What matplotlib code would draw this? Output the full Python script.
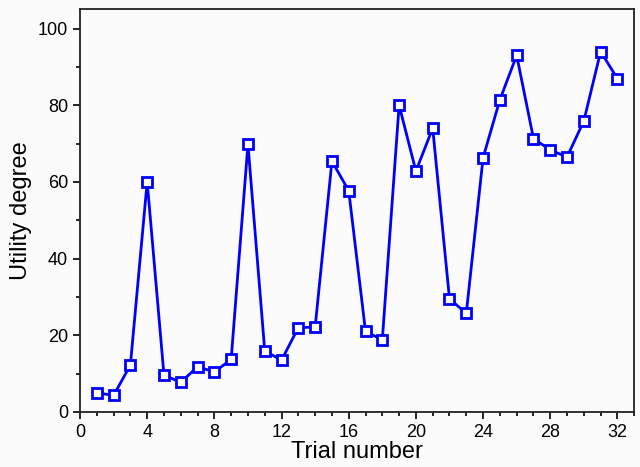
import matplotlib
matplotlib.use("Agg")
import matplotlib.pyplot as plt
from matplotlib.ticker import MultipleLocator

trial = list(range(1, 33))
utility = [5.0, 4.3, 12.2, 60.0, 9.6, 7.7, 11.8, 10.4, 13.7, 69.8,
           15.9, 13.5, 22.0, 22.1, 65.4, 57.7, 21.0, 18.8, 80.0, 62.8,
           74.0, 29.5, 25.7, 66.3, 81.4, 93.0, 71.3, 68.3, 66.5, 75.9,
           94.0, 86.9]

plt.rcParams['font.family'] = ['Liberation Sans', 'DejaVu Sans']

fig = plt.figure(figsize=(6.4, 4.67), dpi=100)
fig.patch.set_facecolor('#fbfbfb')
ax = fig.add_axes([0.125, 0.118, 0.866, 0.862])
ax.set_facecolor('#fbfbfb')

ax.plot(trial, utility, color='#0000ff', linewidth=2.0, marker='s',
        markersize=6.5, markerfacecolor='white', markeredgecolor='#0000ff',
        markeredgewidth=2.0)

ax.set_xlim(0, 33)
ax.set_ylim(0, 105)
ax.xaxis.set_major_locator(MultipleLocator(4))
ax.xaxis.set_minor_locator(MultipleLocator(1))
ax.yaxis.set_major_locator(MultipleLocator(20))
ax.yaxis.set_minor_locator(MultipleLocator(10))

ax.tick_params(which='both', direction='out', top=False, right=False,
               labelsize=13, colors='black', width=1.2)
ax.tick_params(which='major', length=5)
ax.tick_params(which='minor', length=3)

for s in ax.spines.values():
    s.set_linewidth(1.3)
    s.set_color('#222222')

ax.set_xlabel('Trial number', fontsize=17, labelpad=0)
ax.set_ylabel('Utility degree', fontsize=17, labelpad=4)

fig.savefig('out.png', dpi=100, facecolor=fig.get_facecolor())
